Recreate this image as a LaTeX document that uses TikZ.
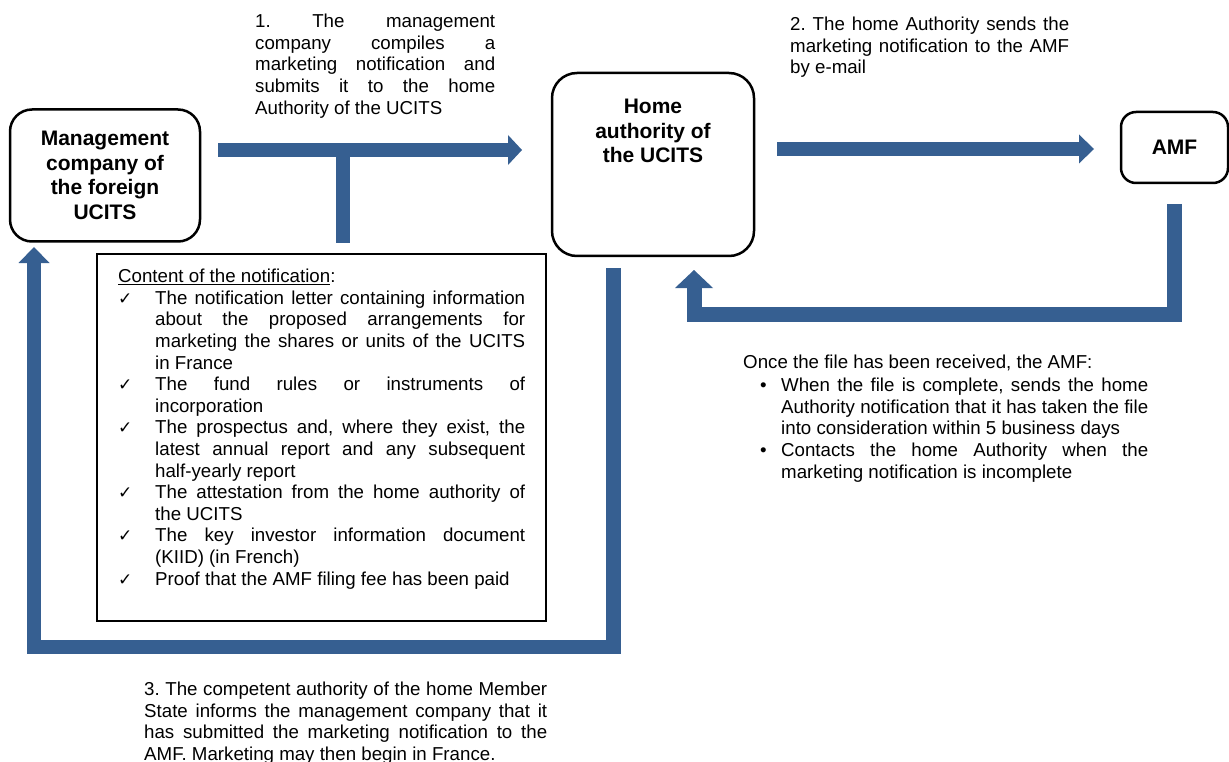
\documentclass[tikz,border=0pt]{standalone}
\usepackage{fontspec}
\setmainfont{Liberation Sans}
\newfontfamily\dejavu{DejaVu Sans}
\usetikzlibrary{arrows.meta}
\definecolor{arrowblue}{RGB}{54,95,145}
\newcommand\jl[2]{{\frenchspacing\spaceskip=.278em plus 1fil\makebox[#1][s]{#2}}}
\newcommand\chk{\makebox[37pt][l]{\dejavu\fontsize{17}{17}\selectfont ✓}}
\newcommand\ind{\hspace*{37pt}}
\newcommand\bul{\hspace*{17pt}\makebox[21pt][l]{•}}
\newcommand\bind{\hspace*{38pt}}
\newcommand\topstrut{\rule{0pt}{16pt}}
\frenchspacing
\begin{document}
\begin{tikzpicture}[x=1pt,y=-1pt,
  box/.style={draw=black, line width=2.5pt},
  lbl/.style={font=\fontsize{21}{24.5}\selectfont\bfseries\frenchspacing, align=flush center, inner sep=0pt},
  txt/.style={font=\fontsize{18.7}{21.6}\selectfont\frenchspacing, align=flush left, inner sep=0pt, anchor=north west},
  flow/.style={draw=arrowblue, line width=14pt},
]
\useasboundingbox (0,0) rectangle (1229,762);

% boxes
\node[box, lbl, rounded corners=22pt, minimum width=190pt, minimum height=132pt] (mgmt) at (105,175.5)
  {Management\\company of\\the foreign\\UCITS};
\node[box, rounded corners=25pt, minimum width=202pt, minimum height=183pt] (home) at (653,164.5) {};
\node[lbl, anchor=north] (homelbl) at (653,97.5) {\topstrut Home\\authority of\\the UCITS};
\node[box, lbl, rounded corners=15pt, minimum width=107pt, minimum height=71pt] (amf) at (1174.5,147.5) {AMF};
\node[draw=black, line width=1.5pt, minimum width=449pt, minimum height=367pt, inner sep=0pt] (content) at (321.5,437.5) {};

% texts
\node[txt, text width=240pt] (t1) at (255,11.5) {\topstrut\jl{240pt}{1. The management}\\
\jl{240pt}{company compiles a}\\
\jl{240pt}{marketing notification and}\\
\jl{240pt}{submits it to the home}\\
Authority of the UCITS};

\node[txt, text width=279pt] (t2) at (790,14.5) {\topstrut\jl{279pt}{2. The home Authority sends the}\\
\jl{279pt}{marketing notification to the AMF}\\
by e-mail};

\node[txt, text width=430pt] (list) at (118,266.5) {\topstrut\underline{Content of the notification}:\\
\chk\jl{370pt}{The notification letter containing information}\\
\ind\jl{370pt}{about the proposed arrangements for}\\
\ind\jl{370pt}{marketing the shares or units of the UCITS}\\
\ind in France\\
\chk\jl{370pt}{The fund rules or instruments of}\\
\ind incorporation\\
\chk\jl{370pt}{The prospectus and, where they exist, the}\\
\ind\jl{370pt}{latest annual report and any subsequent}\\
\ind half-yearly report\\
\chk\jl{370pt}{The attestation from the home authority of}\\
\ind the UCITS\\
\chk\jl{370pt}{The key investor information document}\\
\ind (KIID) (in French)\\
\chk Proof that the AMF filing fee has been paid};

\node[txt, text width=420pt] (amftxt) at (743,352.5) {\topstrut Once the file has been received, the AMF:\\[1.4pt]
\bul\jl{367pt}{When the file is complete, sends the home}\\
\bind\jl{367pt}{Authority notification that it has taken the file}\\
\bind into consideration within 5 business days\\
\bul\jl{367pt}{Contacts the home Authority when the}\\
\bind marketing notification is incomplete};

\node[txt, text width=403pt] (t3) at (144,679.5) {\topstrut\jl{403pt}{3. The competent authority of the home Member}\\
\jl{403pt}{State informs the management company that it}\\
\jl{403pt}{has submitted the marketing notification to the}\\
AMF. Marketing may then begin in France.};

% arrows
\coordinate (a1s) at (218,150);
\coordinate (a1e) at (522,150);
\coordinate (a1j) at (343,150);
\coordinate (a1b) at (343,243);
\draw[flow, -{Triangle[length=14pt,width=30pt,line width=0pt]}] (a1s) -- (a1e);
\draw[flow] (a1j) -- (a1b);

\coordinate (a2s) at (777,149);
\coordinate (a2e) at (1094,149);
\draw[flow, -{Triangle[length=15pt,width=29pt,line width=0pt]}] (a2s) -- (a2e);

\coordinate (a3s) at (1174,204);
\coordinate (a3e) at (694,270);
\draw[flow, line width=15pt, -{Triangle[length=18pt,width=38pt,line width=0pt]}] (a3s) -- ++(0,110) -| (a3e);

\coordinate (a4s) at (613.5,268);
\coordinate (a4e) at (34,247);
\draw[flow, line width=14.5pt, -{Triangle[length=16pt,width=31pt,line width=0pt]}] (a4s) -- ++(0,379) -| (a4e);
\end{tikzpicture}
\end{document}
